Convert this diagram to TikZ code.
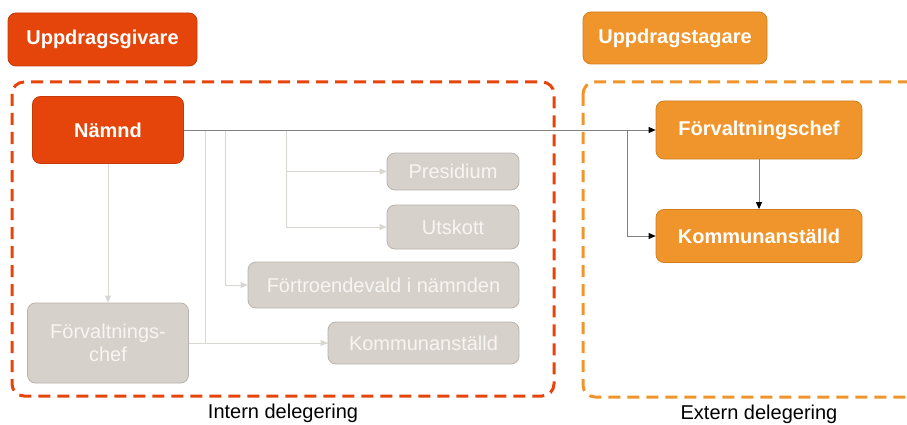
\documentclass[tikz,border=0pt]{standalone}
\usepackage{fontspec}
\setmainfont{Liberation Sans}
\usetikzlibrary{arrows.meta}
\definecolor{redo}{HTML}{E5450B}
\definecolor{redb}{HTML}{C43A08}
\definecolor{oran}{HTML}{F0952B}
\definecolor{oranb}{HTML}{D07E20}
\definecolor{gfill}{HTML}{D7D1CB}
\definecolor{gbord}{HTML}{B9B3AC}
\definecolor{gtext}{HTML}{F7F5F2}
\definecolor{gline}{HTML}{DAD6D1}
\definecolor{dline}{HTML}{808080}
\tikzset{
  base/.style={rounded corners=8pt, inner sep=0pt, font=\fontsize{20}{23}\selectfont, align=center, line width=0.8pt},
  redbox/.style={base, fill=redo, draw=redb, text=white, font=\fontsize{20}{23}\selectfont\bfseries},
  orbox/.style={base, fill=oran, draw=oranb, text=white, font=\fontsize{20}{23}\selectfont\bfseries},
  greybox/.style={base, fill=gfill, draw=gbord, text=gtext},
  darkarr/.style={draw=dline, line width=0.8pt, -{Triangle[length=7pt,width=6pt,color=black]}},
  darkline/.style={draw=dline, line width=0.8pt},
  lightarr/.style={draw=gline, line width=0.8pt, -{Triangle[length=7pt,width=6pt,color=gline]}},
  lightline/.style={draw=gline, line width=0.8pt},
  dashbox/.style={line width=3pt, dash pattern=on 12pt off 7pt, rounded corners=12pt},
  lbl/.style={font=\fontsize{20}{23}\selectfont, text=black, inner sep=0pt}
}
\begin{document}
\begin{tikzpicture}[x=1pt,y=-1pt]
\useasboundingbox (0,0) rectangle (907,425);
\clip (0,0) rectangle (907,425);
% dashed groups
\draw[dashbox, draw=redo] (12,82) rectangle (554,396);
\draw[dashbox, draw=oran] (583,82) rectangle (930,397);
% nodes
\node[redbox, minimum width=189pt, minimum height=53pt] (giv) at (102.5,39.5) {Uppdragsgivare};
\node[orbox, minimum width=184pt, minimum height=52pt] (tag) at (675,38) {Uppdragstagare};
\node[redbox, minimum width=151pt, minimum height=67pt] (namnd) at (108,130) {Nämnd};
\node[greybox, minimum width=132pt, minimum height=37pt] (pres) at (453,171.5) {Presidium};
\node[greybox, minimum width=132pt, minimum height=44pt] (utsk) at (453,227) {Utskott};
\node[greybox, minimum width=271pt, minimum height=46pt] (fort) at (383.5,285) {Förtroendevald i nämnden};
\node[greybox, minimum width=191pt, minimum height=42pt] (komg) at (423.5,343) {Kommunanställd};
\node[greybox, minimum width=161pt, minimum height=80pt] (chefg) at (108,343) {Förvaltnings-\\chef};
\node[orbox, minimum width=206pt, minimum height=58pt] (chefo) at (759,130) {Förvaltningschef};
\node[orbox, minimum width=206pt, minimum height=53pt] (komo) at (759,236) {Kommunanställd};
% junction points
\coordinate (a1) at (286,130);
\coordinate (a2) at (225,130);
\coordinate (a3) at (205,130);
\coordinate (j1) at (627,130);
% light connectors
\draw[lightarr] (namnd.south) -- (chefg.north);
\draw[lightarr] (a1) |- (pres.west);
\draw[lightarr] (a1) |- (utsk.west);
\draw[lightarr] (a2) |- (fort.west);
\draw[lightline] (a3) |- (komg.west);
\draw[lightarr] (chefg.east) -- (komg.west);
% dark connectors
\draw[darkarr] (namnd.east) -- (chefo.west);
\draw[darkarr] (j1) |- (komo.west);
\draw[darkarr] (chefo.south) -- (komo.north);
% labels
\node[lbl] (intern) at (283,413) {Intern delegering};
\node[lbl] (extern) at (759,414) {Extern delegering};
\end{tikzpicture}
\end{document}
